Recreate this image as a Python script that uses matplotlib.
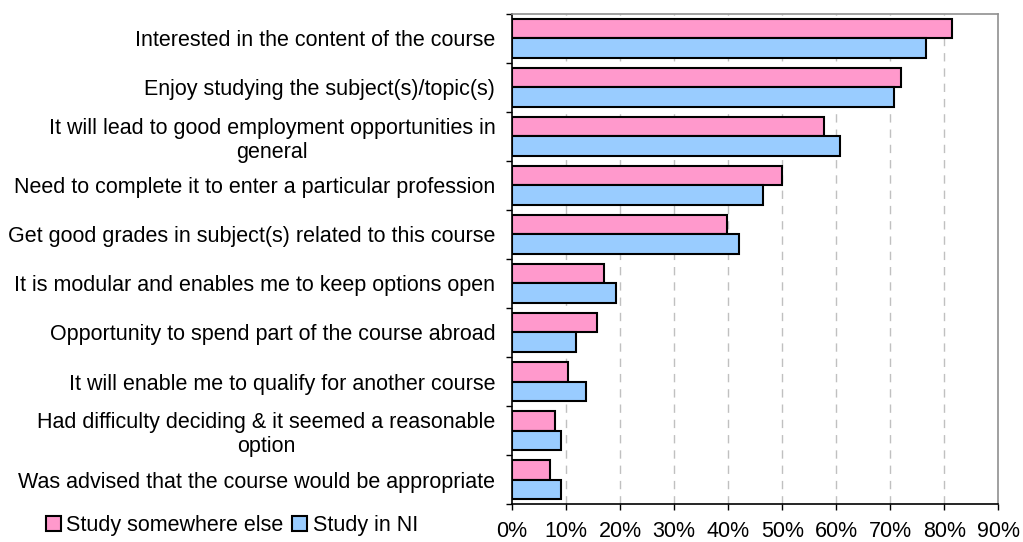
import matplotlib
matplotlib.use("Agg")
import matplotlib.pyplot as plt
import numpy as np

plt.rcParams['font.family'] = ['Liberation Sans', 'DejaVu Sans']

reasons = [
    "Interested in the content of the course",
    "Enjoy studying the subject(s)/topic(s)",
    "It will lead to good employment opportunities in\ngeneral",
    "Need to complete it to enter a particular profession",
    "Get good grades in subject(s) related to this course",
    "It is modular and enables me to keep options open",
    "Opportunity to spend part of the course abroad",
    "It will enable me to qualify for another course",
    "Had difficulty deciding & it seemed a reasonable\noption",
    "Was advised that the course would be appropriate",
]
elsewhere = [81.4, 72.0, 57.7, 49.9, 39.8, 17.0, 15.7, 10.3, 8.0, 7.1]
in_ni = [76.7, 70.7, 60.7, 46.4, 42.0, 19.2, 11.9, 13.6, 9.0, 9.0]
xticks = [0, 10, 20, 30, 40, 50, 60, 70, 80, 90]

fig = plt.figure(figsize=(10.23, 5.42), dpi=100)
ax = fig.add_axes([0.5005, 0.0701, 0.4754, 0.9041])

y = np.arange(len(reasons))
h = 0.4
b1 = ax.barh(y - 0.2, elsewhere, height=h, color='#FF99CC', edgecolor='black',
             linewidth=1.5, label='Study somewhere else', zorder=3)
b2 = ax.barh(y + 0.2, in_ni, height=h, color='#99CCFF', edgecolor='black',
             linewidth=1.5, label='Study in NI', zorder=3)

ax.set_xlim(0, 90)
ax.set_ylim(len(reasons) - 0.5, -0.5)

ax.set_xticks(xticks)
ax.set_xticklabels([f"{v}%" for v in xticks], fontsize=15.5)
ax.tick_params(axis='x', direction='out', length=4, width=1, pad=8.5, colors='black')

# ticks between groups, labels in the middle of each group
ax.set_yticks(np.arange(-0.5, len(reasons), 1.0))
ax.set_yticklabels([])
ax.set_yticks(y, minor=True)
ax.set_yticklabels(reasons, minor=True, fontsize=15.5)
ax.tick_params(axis='y', which='major', direction='out', length=4, width=1)
ax.tick_params(axis='y', which='minor', length=0, pad=12)
for lbl in ax.get_yticklabels(minor=True):
    lbl.set_multialignment('center')
    lbl.set_linespacing(1.2)

for v in xticks[1:-1]:
    ax.axvline(v, color='#c0c0c0', linewidth=1, linestyle=(0, (6, 5)), zorder=1)

ax.spines['left'].set_color('black')
ax.spines['bottom'].set_color('black')
ax.spines['top'].set_color('#909090')
ax.spines['right'].set_color('#909090')
for s in ax.spines.values():
    s.set_linewidth(1.2)

fig.legend(handles=[b1, b2], loc='center left', bbox_to_anchor=(0.045, 0.031),
           ncol=2, frameon=False, fontsize=15.5, handlelength=0.7, handleheight=0.7,
           handletextpad=0.25, columnspacing=0.4, borderpad=0, borderaxespad=0)

fig.savefig('out.png', dpi=100)
